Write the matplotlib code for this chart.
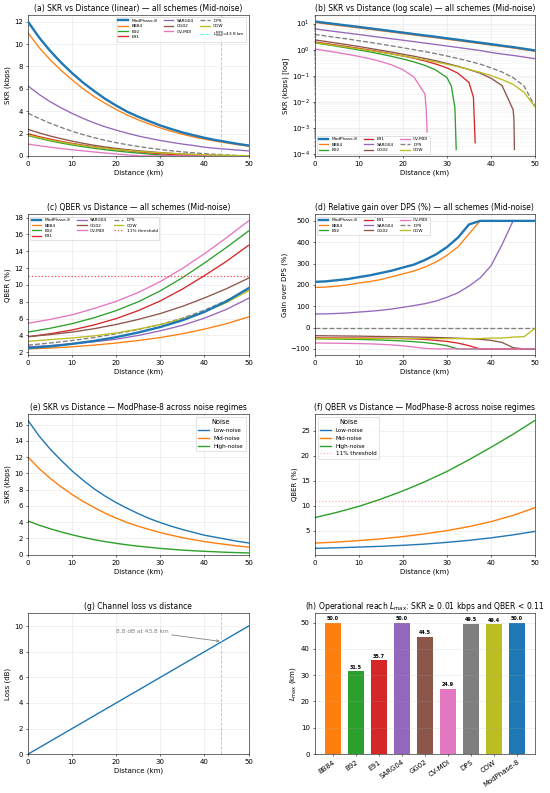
import numpy as np
import matplotlib
matplotlib.use("Agg")
import matplotlib.pyplot as plt

# distances (km)
d = [0, 2.5, 5, 7.5, 10, 12.5, 15, 17.5, 20, 22.5, 25, 27.5, 30,
     32.5, 35, 37.5, 40, 42.5, 45, 47.5, 50]
d5 = [0, 5, 10, 15, 20, 25, 30, 35, 40, 45, 50]

schemes = ["ModPhase-8", "BB84", "B92", "E91", "SARG04", "GG02", "CV-MDI", "DPS", "COW"]
colors = {"ModPhase-8": "tab:blue", "BB84": "tab:orange", "B92": "tab:green",
          "E91": "tab:red", "SARG04": "tab:purple", "GG02": "tab:brown",
          "CV-MDI": "tab:pink", "DPS": "tab:gray", "COW": "tab:olive"}

# SKR (kbps), mid-noise, on grid d
skr_mp8 = [12.0, 10.6, 9.4, 8.35, 7.4, 6.55, 5.8, 5.1, 4.5, 3.95, 3.5, 3.1, 2.72,
           2.4, 2.1, 1.85, 1.62, 1.42, 1.25, 1.08, 0.93]
skr_bb84 = [11.0, 9.7, 8.6, 7.65, 6.8, 6.0, 5.3, 4.7, 4.15, 3.65, 3.22, 2.85, 2.5,
            2.2, 1.94, 1.7, 1.5, 1.32, 1.16, 1.0, 0.87]
skr_b92 = [1.82, 1.57, 1.35, 1.15, 0.98, 0.82, 0.68, 0.55, 0.44, 0.34, 0.25, 0.165, 0.085,
           0, 0, 0, 0, 0, 0, 0, 0]
skr_e91 = [1.98, 1.72, 1.5, 1.3, 1.12, 0.96, 0.82, 0.69, 0.57, 0.47, 0.37, 0.28, 0.2,
           0.125, 0.055, 0, 0, 0, 0, 0, 0]
skr_sarg = [6.25, 5.5, 4.85, 4.3, 3.8, 3.35, 2.95, 2.6, 2.3, 2.03, 1.78, 1.57, 1.38,
            1.21, 1.06, 0.93, 0.78, 0.68, 0.6, 0.52, 0.45]
skr_gg02 = [2.37, 2.06, 1.78, 1.54, 1.32, 1.12, 0.95, 0.8, 0.67, 0.56, 0.46, 0.375, 0.296,
            0.23, 0.173, 0.126, 0.08, 0.042, 0.005, 0, 0]
skr_cvmdi = [1.06, 0.91, 0.78, 0.66, 0.55, 0.45, 0.35, 0.26, 0.17, 0.09, 0.02, 0, 0,
             0, 0, 0, 0, 0, 0, 0, 0]
skr_dps = [3.82, 3.35, 2.92, 2.55, 2.2, 1.9, 1.63, 1.39, 1.18, 1.0, 0.84, 0.7, 0.57,
           0.46, 0.36, 0.28, 0.2, 0.139, 0.085, 0.04, 0.0065]
skr_cow = [1.87, 1.63, 1.42, 1.24, 1.07, 0.92, 0.79, 0.675, 0.575, 0.485, 0.405, 0.335, 0.275,
           0.222, 0.174, 0.136, 0.102, 0.071, 0.047, 0.023, 0.0063]

# extra points near the SKR cutoff (distance, kbps)
tail_b92 = ([31.0, 31.8, 32.1], [0.04, 0.006, 1.5e-4])
tail_e91 = ([36.0, 36.4], [0.015, 2.7e-4])
tail_gg02 = ([45.2, 45.3], [0.002, 1.5e-4])
tail_cvmdi = ([25.3, 25.5], [0.005, 7e-4])

# QBER (%), mid-noise, on grid d5
q_mp8 = [2.5, 2.7, 3.0, 3.35, 3.8, 4.35, 5.0, 5.8, 6.8, 8.05, 9.6]
q_bb84 = [2.4, 2.5, 2.65, 2.85, 3.1, 3.4, 3.75, 4.2, 4.75, 5.4, 6.2]
q_b92 = [4.4, 4.85, 5.4, 6.1, 6.95, 8.0, 9.3, 10.85, 12.6, 14.45, 16.4]
q_e91 = [3.85, 4.2, 4.65, 5.25, 6.0, 6.95, 8.1, 9.5, 11.1, 12.8, 14.7]
q_sarg = [2.65, 2.8, 3.0, 3.25, 3.55, 4.0, 4.55, 5.2, 6.05, 7.1, 8.4]
q_gg02 = [3.85, 4.1, 4.4, 4.8, 5.3, 5.9, 6.6, 7.45, 8.45, 9.55, 10.8]
q_cvmdi = [5.45, 5.9, 6.45, 7.2, 8.05, 9.1, 10.4, 11.95, 13.7, 15.6, 17.6]
q_dps = [2.85, 3.1, 3.4, 3.75, 4.2, 4.7, 5.3, 6.05, 7.0, 8.15, 9.5]
q_cow = [3.3, 3.5, 3.7, 3.95, 4.3, 4.75, 5.3, 5.95, 6.8, 7.9, 9.3]

# ModPhase-8 across noise regimes
skr_low = [16.5, 14.6, 13.0, 11.6, 10.3, 9.15, 8.1, 7.2, 6.4, 5.7, 5.05, 4.45, 3.95,
           3.5, 3.1, 2.75, 2.4, 2.15, 1.9, 1.65, 1.45]
skr_high = [4.15, 3.63, 3.2, 2.8, 2.45, 2.13, 1.85, 1.61, 1.4, 1.21, 1.05, 0.91, 0.78,
            0.67, 0.57, 0.49, 0.42, 0.36, 0.3, 0.26, 0.22]
q_low = [1.45, 1.55, 1.7, 1.85, 2.05, 2.3, 2.65, 3.05, 3.55, 4.15, 4.85]
q_high = [7.6, 8.65, 9.85, 11.3, 12.95, 14.8, 16.85, 19.2, 21.7, 24.3, 27.1]

# channel loss
loss_d = [0, 50]
loss_db = [0, 10]
L_mp8 = 43.8
L_mp8_loss = 8.8

# operational reach
reach_names = ["BB84", "B92", "E91", "SARG04", "GG02", "CV-MDI", "DPS", "COW", "ModPhase-8"]
reach_km = [50.0, 31.5, 35.7, 50.0, 44.5, 24.9, 49.5, 49.4, 50.0]

skr = {"ModPhase-8": skr_mp8, "BB84": skr_bb84, "B92": skr_b92, "E91": skr_e91,
       "SARG04": skr_sarg, "GG02": skr_gg02, "CV-MDI": skr_cvmdi, "DPS": skr_dps,
       "COW": skr_cow}
tails = {"B92": tail_b92, "E91": tail_e91, "GG02": tail_gg02, "CV-MDI": tail_cvmdi}
qber = {"ModPhase-8": q_mp8, "BB84": q_bb84, "B92": q_b92, "E91": q_e91,
        "SARG04": q_sarg, "GG02": q_gg02, "CV-MDI": q_cvmdi, "DPS": q_dps, "COW": q_cow}


def skr_curve(name):
    x = list(d)
    y = list(skr[name])
    if name in tails:
        x += tails[name][0]
        y += tails[name][1]
    order = np.argsort(x, kind="stable")
    return np.array(x)[order], np.array(y, dtype=float)[order]


def style(name):
    if name == "ModPhase-8":
        return dict(color=colors[name], lw=3.4, zorder=5)
    if name == "DPS":
        return dict(color=colors[name], lw=1.9, ls="--")
    return dict(color=colors[name], lw=1.9)


plt.rcParams["font.size"] = 10
fig, axes = plt.subplots(4, 2, figsize=(11, 15.86), dpi=50)
fig.subplots_adjust(left=0.051, right=0.973, top=0.981, bottom=0.049,
                    wspace=0.3, hspace=0.416)
leg_kw = dict(fontsize=6.2, handlelength=2.2, columnspacing=1.5, labelspacing=0.3)
TS = 11

# (a)
ax = axes[0, 0]
for name in schemes:
    x, y = skr_curve(name)
    ax.plot(x, y, label=name, **style(name))
ax.axvline(L_mp8, color="cyan", ls="--", lw=1.3, alpha=0.8,
           label=r"$L_{\max}^{\mathrm{MP8}}$=%.1f km" % L_mp8)
ax.set_xlim(0, 50)
ax.set_ylim(bottom=0)
ax.set_title("(a) SKR vs Distance (linear) — all schemes (Mid-noise)", fontsize=TS)
ax.set_xlabel("Distance (km)")
ax.set_ylabel("SKR (kbps)")
ax.grid(alpha=0.3)
ax.legend(ncol=3, loc="upper right", **leg_kw)

# (b)
ax = axes[0, 1]
for name in schemes:
    x, y = skr_curve(name)
    y = np.where(y > 0, y, np.nan)
    ax.plot(x, y, label=name, **style(name))
ax.set_yscale("log")
ax.set_xlim(0, 50)
ax.set_title("(b) SKR vs Distance (log scale) — all schemes (Mid-noise)", fontsize=TS)
ax.set_xlabel("Distance (km)")
ax.set_ylabel("SKR (kbps) [log]")
ax.grid(which="major", alpha=0.3)
ax.grid(which="minor", axis="y", alpha=0.15)
ax.legend(ncol=3, loc="lower left", **leg_kw)

# (c)
ax = axes[1, 0]
for name in schemes:
    ax.plot(d5, qber[name], label=name, **style(name))
ax.axhline(11, color="red", ls=":", lw=1.8, alpha=0.7, label="11% threshold")
ax.set_xlim(0, 50)
ax.set_title("(c) QBER vs Distance — all schemes (Mid-noise)", fontsize=TS)
ax.set_xlabel("Distance (km)")
ax.set_ylabel("QBER (%)")
ax.grid(alpha=0.3)
ax.legend(ncol=3, loc="upper left", **leg_kw)

# (d)
ax = axes[1, 1]
dps = np.array(skr_dps)
for name in schemes:
    gain = np.clip((np.array(skr[name]) / dps - 1) * 100, -100, 500)
    ax.plot(d, gain, label=name, **style(name))
ax.set_xlim(0, 50)
ax.set_title("(d) Relative gain over DPS (%) — all schemes (Mid-noise)", fontsize=TS)
ax.set_xlabel("Distance (km)")
ax.set_ylabel("Gain over DPS (%)")
ax.grid(alpha=0.3)
ax.legend(ncol=3, loc="upper left", **leg_kw)

# (e)
ax = axes[2, 0]
ax.plot(d, skr_low, color="tab:blue", lw=2, label="Low-noise")
ax.plot(d, skr_mp8, color="tab:orange", lw=2, label="Mid-noise")
ax.plot(d, skr_high, color="tab:green", lw=2, label="High-noise")
ax.set_xlim(0, 50)
ax.set_ylim(bottom=0)
ax.set_title("(e) SKR vs Distance — ModPhase-8 across noise regimes", fontsize=TS)
ax.set_xlabel("Distance (km)")
ax.set_ylabel("SKR (kbps)")
ax.grid(alpha=0.3)
ax.legend(title="Noise", loc="upper right", fontsize=8.2, title_fontsize=9.5)

# (f)
ax = axes[2, 1]
ax.plot(d5, q_low, color="tab:blue", lw=2, label="Low-noise")
ax.plot(d5, q_mp8, color="tab:orange", lw=2, label="Mid-noise")
ax.plot(d5, q_high, color="tab:green", lw=2, label="High-noise")
ax.axhline(11, color="red", ls=":", lw=1.8, alpha=0.3, label="11% threshold")
ax.set_xlim(0, 50)
ax.set_title("(f) QBER vs Distance — ModPhase-8 across noise regimes", fontsize=TS)
ax.set_xlabel("Distance (km)")
ax.set_ylabel("QBER (%)")
ax.grid(alpha=0.3)
ax.legend(title="Noise", loc="upper left", fontsize=8.2, title_fontsize=9.5)

# (g)
ax = axes[3, 0]
ax.plot(loss_d, loss_db, color="tab:blue", lw=2)
ax.axvline(L_mp8, color="cyan", ls="--", lw=1.3, alpha=0.8)
ax.annotate("%.1f dB at %.1f km" % (L_mp8_loss, L_mp8), xy=(L_mp8, L_mp8_loss),
            xytext=(20, 9.5), color="gray", fontsize=8.5,
            arrowprops=dict(arrowstyle="->", color="gray", lw=1.2))
ax.set_xlim(0, 50)
ax.set_ylim(0, 11)
ax.set_title("(g) Channel loss vs distance", fontsize=TS)
ax.set_xlabel("Distance (km)")
ax.set_ylabel("Loss (dB)")
ax.grid(alpha=0.3)

# (h)
ax = axes[3, 1]
bars = ax.bar(reach_names, reach_km, width=0.7, color=[colors[n] for n in reach_names])
for b, v in zip(bars, reach_km):
    ax.text(b.get_x() + b.get_width() / 2, v + 0.6, "%.1f" % v, ha="center",
            va="bottom", fontsize=7, fontweight="bold")
ax.set_ylim(0, 53.5)
ax.set_title(r"(h) Operational reach $L_{\max}$: SKR ≥ 0.01 kbps and QBER < 0.11", fontsize=TS)
ax.set_ylabel(r"$L_{\max}$ (km)")
ax.grid(axis="y", alpha=0.3)
plt.setp(ax.get_xticklabels(), rotation=35, ha="right", rotation_mode="anchor")

fig.savefig("out.png", dpi=50)
